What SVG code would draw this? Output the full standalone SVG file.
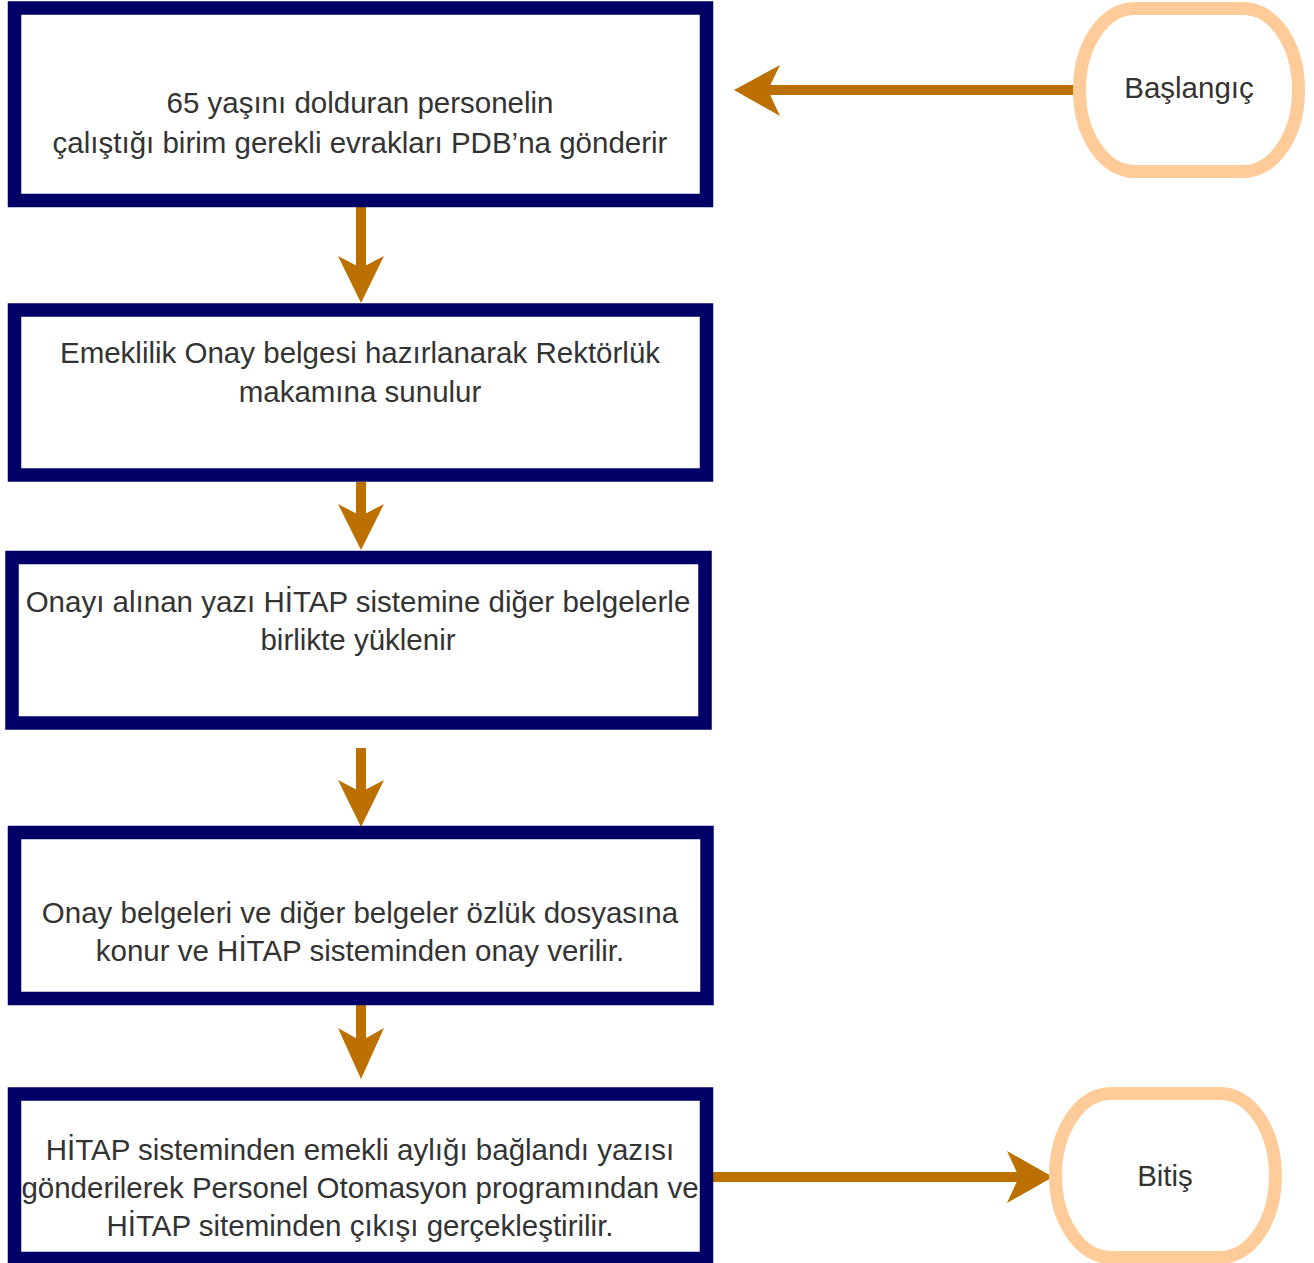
<svg xmlns="http://www.w3.org/2000/svg" width="1314" height="1263" viewBox="0 0 1314 1263">
<style>
.box{fill:#ffffff;stroke:#000066;stroke-width:13.5}
.term{fill:#ffffff;stroke:#FFCC99;stroke-width:13}
.t{font-family:"Liberation Sans",Arial,Helvetica,sans-serif;font-size:29.5px;fill:#333333;text-anchor:middle}
.ln{stroke:#BB7000;stroke-width:10;fill:none}
.hd{fill:#BB7000;stroke:none}
</style>
<rect x="0" y="0" width="1314" height="1263" fill="#ffffff"/>
<g id="connectors">
<line class="ln" x1="1078" y1="90" x2="766" y2="90"/>
<path class="hd" d="M734,90 L780,65 L768,90 L780,116 Z"/>
<line class="ln" x1="361" y1="207" x2="361" y2="270"/>
<path class="hd" d="M361,303 L338,256 L361,268 L384,256 Z"/>
<line class="ln" x1="361" y1="482" x2="361" y2="518"/>
<path class="hd" d="M361,550 L338,504 L361,516 L384,504 Z"/>
<line class="ln" x1="361" y1="748" x2="361" y2="795"/>
<path class="hd" d="M361,827 L338,780 L361,792 L384,780 Z"/>
<line class="ln" x1="361" y1="1005" x2="361" y2="1045"/>
<path class="hd" d="M361,1079 L338,1028 L361,1041 L384,1028 Z"/>
<line class="ln" x1="713" y1="1177" x2="1020" y2="1177"/>
<path class="hd" d="M1053,1177 L1007,1151 L1019,1177 L1007,1203 Z"/>
</g>
<g id="start">
<rect class="term" x="1079.5" y="8.5" width="219" height="163" rx="55" ry="81"/>
<text class="t" x="1189" y="98">Başlangıç</text>
</g>
<g id="step1">
<rect class="box" x="14.5" y="8" width="692" height="192.5"/>
<text class="t" x="360" y="113">65 yaşını dolduran personelin</text>
<text class="t" x="360" y="153">çalıştığı birim gerekli evrakları PDB’na gönderir</text>
</g>
<g id="step2">
<rect class="box" x="14.5" y="310" width="692" height="165"/>
<text class="t" x="360" y="363">Emeklilik Onay belgesi hazırlanarak Rektörlük</text>
<text class="t" x="360" y="402">makamına sunulur</text>
</g>
<g id="step3">
<rect class="box" x="12" y="557.5" width="693" height="165.5"/>
<text class="t" x="358" y="612">Onayı alınan yazı HİTAP sistemine diğer belgelerle</text>
<text class="t" x="358" y="650">birlikte yüklenir</text>
</g>
<g id="step4">
<rect class="box" x="14.5" y="832.5" width="692.5" height="166"/>
<text class="t" x="360" y="923">Onay belgeleri ve diğer belgeler özlük dosyasına</text>
<text class="t" x="360" y="961">konur ve HİTAP sisteminden onay verilir.</text>
</g>
<g id="step5">
<rect class="box" x="14.5" y="1094" width="692" height="164.5"/>
<text class="t" x="360" y="1160">HİTAP sisteminden emekli aylığı bağlandı yazısı</text>
<text class="t" x="360" y="1198">gönderilerek Personel Otomasyon programından ve</text>
<text class="t" x="360" y="1236">HİTAP siteminden çıkışı gerçekleştirilir.</text>
</g>
<g id="end">
<rect class="term" x="1055.5" y="1093.5" width="220" height="164" rx="55" ry="82"/>
<text class="t" x="1165" y="1186">Bitiş</text>
</g>
</svg>
